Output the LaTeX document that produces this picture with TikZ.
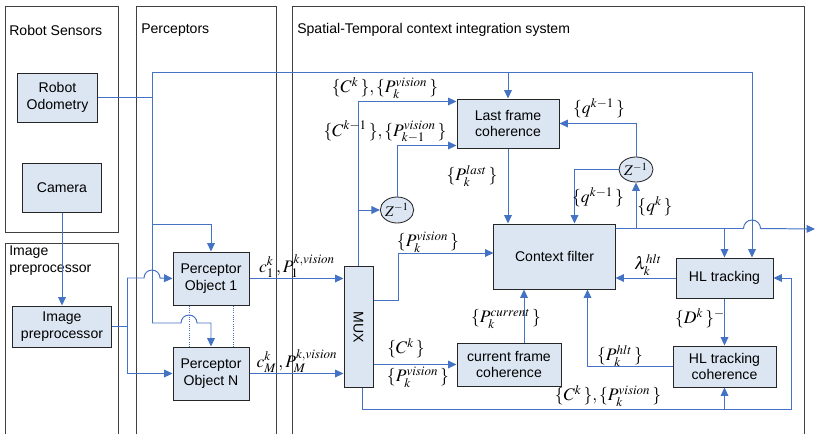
\documentclass[tikz,border=0pt]{standalone}
\usepackage{mathptmx}
\usepackage[no-math]{fontspec}
\usepackage{graphicx}
\usepackage{tikz}
\usetikzlibrary{arrows.meta,shapes,positioning}
\newfontfamily\arialfont{Liberation Sans}
\usepackage{xcolor}
\definecolor{stblue}{RGB}{68,114,196}
\definecolor{stfill}{RGB}{220,230,242}
\definecolor{stgray}{RGB}{64,64,64}
\tikzstyle{lane} = [draw=stgray, line width=0.7pt]
\tikzstyle{lanetitle} = [anchor=west, inner sep=0pt, font=\arialfont\fontsize{10}{12}\selectfont]
\tikzstyle{module} = [rectangle, draw=black!85, fill=stfill, line width=0.7pt, align=center, inner sep=1pt, font=\arialfont\fontsize{10}{12}\selectfont]
\tikzstyle{delay} = [ellipse, draw=black!85, fill=stfill, line width=0.6pt, inner sep=0pt, font=\fontsize{10.5}{11}\selectfont]
\tikzstyle{link} = [line width=0.7pt, color=stblue]
\tikzstyle{arrow} = [line width=0.7pt, ->, >={Triangle[length=6pt,width=5.5pt]}, color=stblue]
\tikzstyle{sig} = [inner sep=0pt, font=\fontsize{12.5}{13}\selectfont]

\begin{document}
\begin{tikzpicture}[x=0.025cm, y=-0.025cm]
\useasboundingbox (0,0) rectangle (815,434);
% Lanes
\draw[lane] (5,6) rectangle (118,232);
\draw[lane] (5,434) |- (118,243) -- (118,434);
\draw[lane] (136,434) |- (276,6) -- (276,434);
\draw[lane] (292,434) |- (804,6) -- (804,434);
\node[lanetitle] (tsens) at (9,30) {Robot Sensors};
\node[lanetitle] (tperc) at (141,30) {Perceptors};
\node[lanetitle] (tstis) at (297,30) {Spatial-Temporal context integration system};
\node[lanetitle, anchor=north west, align=left] (timg) at (9,246) {Image\\preprocessor};

% Sensors and perceptors
\node (odom) [module, minimum width=1.975cm, minimum height=1.225cm] at (57.5,97.5) {Robot\\Odometry};
\node (cam) [module, minimum width=1.95cm, minimum height=1.225cm] at (62,187.5) {Camera};
\node (imgpre) [module, minimum width=2.45cm, minimum height=1.025cm] at (62,326.5) {Image\\preprocessor};
\node (perc1) [module, minimum width=1.9cm, minimum height=1.325cm] at (211,278.5) {Perceptor\\Object 1};
\node (percN) [module, minimum width=1.9cm, minimum height=1.325cm] at (211,373.5) {Perceptor\\Object N};

% Integration system
\node (mux) [module, minimum width=0.725cm, minimum height=3cm] at (358.5,327) {\rotatebox{-90}{MUX}};
\node (lastfc) [module, minimum width=2.55cm, minimum height=1.225cm] at (508,123.5) {Last frame\\coherence};
\node (ctxf) [module, minimum width=3.025cm, minimum height=1.625cm] at (554.5,256.5) {Context filter};
\node (curfc) [module, minimum width=2.6cm, minimum height=1.075cm] at (509,364.5) {current frame\\coherence};
\node (hlt) [module, minimum width=2.425cm, minimum height=1cm] at (724.5,278) {HL tracking};
\node (hltc) [module, minimum width=2.575cm, minimum height=1.025cm] at (724.5,366.5) {HL tracking\\coherence};
\node (zl) [delay, minimum width=0.8cm, minimum height=0.65cm] at (397,210) {$Z^{-1}$};
\node (zr) [delay, minimum width=0.85cm, minimum height=0.625cm] at (636,169.5) {$Z^{-1}$};

% Junctions
\coordinate (busx) at (152,72);
\coordinate (bustop) at (752,72);
\coordinate (busbot) at (152,323);
\coordinate (p1tap) at (152,224);
\coordinate (ipx) at (127,278);
\coordinate (muxbot) at ([xshift=0.1cm, yshift=-0.55cm]mux.south);
\coordinate (cout) at ([yshift=-0.125cm]ctxf.north east);
\coordinate (outend) at (815,229);

% Odometry bus
\draw[link] (odom.east) -- (odom.east -| busx);
\draw[link] (busbot) -- (busx) -- (bustop);
\draw[arrow] (bustop) -- (bustop |- hlt.north);
\draw[arrow] (busx -| lastfc.north) -- (lastfc.north);
\draw[arrow] (p1tap) -| (perc1.north);
\draw[arrow] (busbot) -- ++(29,0) arc[start angle=180, end angle=0, radius=0.2cm] -| (percN.north);

% Image path
\draw[arrow] (cam.south) -- (imgpre.north);
\draw[link] (imgpre.east) -- (imgpre.east -| ipx);
\draw[arrow] (ipx) -- ++(17,0) arc[start angle=180, end angle=0, radius=0.2cm] -- (perc1.west);
\draw[arrow] (ipx) |- (percN.west);
\draw[densely dotted, stblue, line width=0.6pt] ([xshift=-0.55cm]perc1.south) -- ([xshift=-0.55cm]percN.north);
\draw[densely dotted, stblue, line width=0.6pt] ([xshift=0.55cm]perc1.south) -- ([xshift=0.55cm]percN.north);

% Perceptors to MUX
\draw[arrow] (perc1.east) -- (perc1.east -| mux.west);
\draw[arrow] (percN.east) -- (percN.east -| mux.west);
\node[sig] (lp1) at (297,266) {$c_1^k\,,P_1^{k,vision}$};
\node[sig] (lpN) at (297,361) {$c_M^k\,,P_M^{k,vision}$};

% MUX outputs
\draw[arrow] (mux.north) |- ([yshift=-0.075cm]lastfc.north west);
\draw[arrow] (mux.north |- zl.west) -- (zl.west);
\draw[arrow] (zl.north) |- ([yshift=0.075cm]lastfc.south west);
\draw[arrow] ([yshift=0.675cm]mux.east) -- ++(25,0) |- ([yshift=0.0875cm]ctxf.west);
\draw[arrow] (mux.east |- curfc.west) -- (curfc.west);
\draw[arrow] ([xshift=0.1cm]mux.south) -- (muxbot) -| ([xshift=0.45cm]hlt.east) -- (hlt.east);
\draw[arrow] (muxbot -| hltc.south) -- (hltc.south);
\node[sig] (lck) at (385,88) {$\{C^k\,\},\{P_k^{vision}\,\}$};
\node[sig] (lck1) at (385,132) {$\{C^{k-1}\,\},\{P_{k-1}^{vision}\,\}$};
\node[sig] (lpv) at (428,242) {$\{P_k^{vision}\,\}$};
\node[sig] (lcc) at (406,348) {$\{C^k\,\}$};
\node[sig] (lcp) at (418,377) {$\{P_k^{vision}\,\}$};
\node[sig] (lbot) at (608,396) {$\{C^k\,\},\{P_k^{vision}\,\}$};

% Into context filter
\draw[arrow] (lastfc.south) -- (lastfc.south |- ctxf.north);
\draw[arrow] ([xshift=0.375cm]curfc.north) -- ([xshift=0.375cm]curfc.north |- ctxf.south);
\draw[arrow] (hlt.west) -- (hlt.west -| ctxf.east);
\draw[arrow] (hlt.south) -- (hltc.north);
\draw[arrow] (hltc.west) -| ([xshift=0.825cm]ctxf.south);
\node[sig] (llast) at (472,176) {$\{P_k^{last}\,\}$};
\node[sig] (lcur) at (506,319) {$\{P_k^{current}\,\}$};
\node[sig] (llam) at (648,265) {$\lambda_k^{hlt}$};
\node[sig] (ldk) at (700,318) {$\{D^k\,\}^-$};
\node[sig] (lhlt) at (620,356) {$\{P_k^{hlt}\,\}$};

% Context filter output and feedback
\draw[arrow] (cout) -- ++(128,0) arc[start angle=180, end angle=0, radius=0.2125cm] -- (outend);
\draw[arrow] (cout -| zr.south) -- (zr.south);
\draw[arrow] (cout -| hlt.north) -- (hlt.north);
\draw[arrow] (zr.north) |- (lastfc.east);
\draw[arrow] (zr.west) -| ([xshift=0.5cm]ctxf.north);
\node[sig] (lq1) at (599,108) {$\{q^{k-1}\,\}$};
\node[sig] (lq2) at (598,197) {$\{q^{k-1}\,\}$};
\node[sig] (lq) at (655,206) {$\{q^k\,\}$};
\end{tikzpicture}
\end{document}
